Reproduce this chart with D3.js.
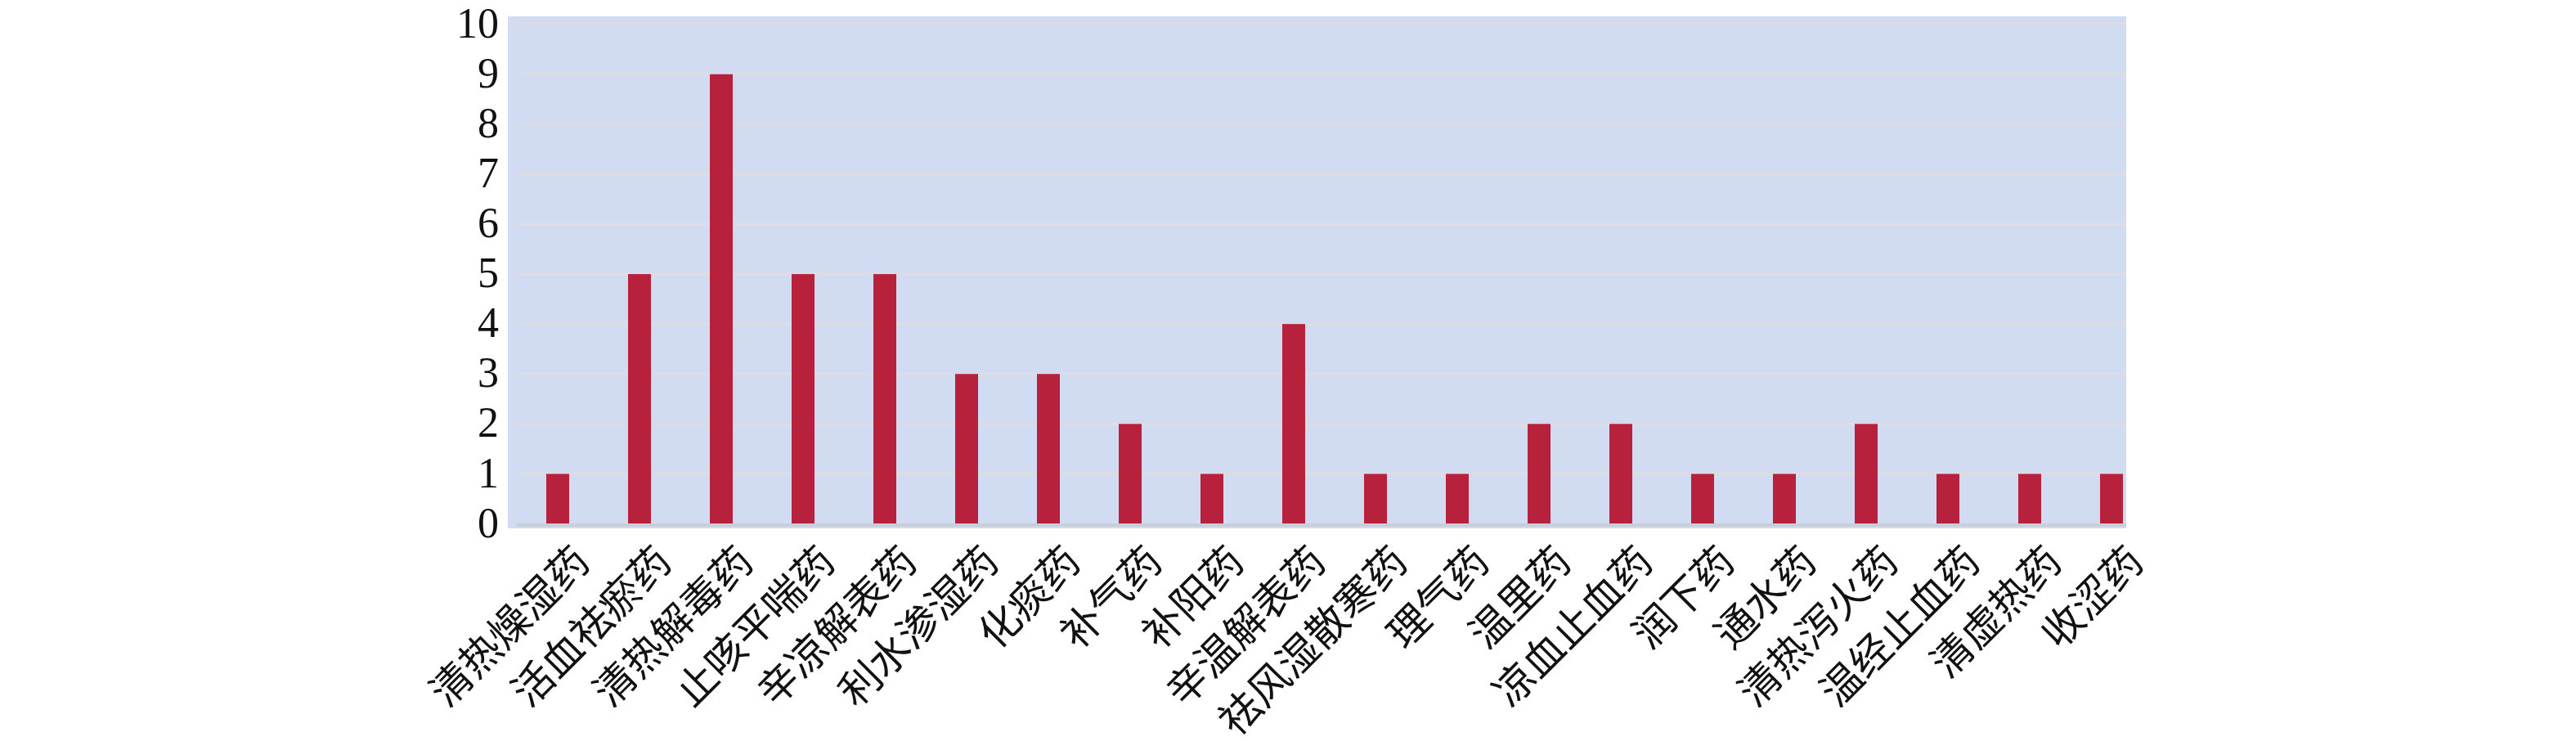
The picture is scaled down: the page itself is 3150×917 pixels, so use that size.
<!DOCTYPE html>
<html><head><meta charset="utf-8">
<script src="https://cdn.jsdelivr.net/npm/d3@7"></script>
<style>body{margin:0;background:#fff;}svg{display:block;}</style>
</head><body>
<script>
const categories = ["清热燥湿药","活血祛瘀药","清热解毒药","止咳平喘药","辛凉解表药","利水渗湿药","化痰药","补气药","补阳药","辛温解表药","祛风湿散寒药","理气药","温里药","凉血止血药","润下药","通水药","清热泻火药","温经止血药","清虚热药","收涩药"];
const values = [1,5,9,5,5,3,3,2,1,4,1,1,2,2,1,1,2,1,1,1];
const yTicks = [0,1,2,3,4,5,6,7,8,9,10];

const W = 3150, H = 917;
const svg = d3.select("body").append("svg").attr("width", W).attr("height", H);

const x = d3.scaleBand().domain(categories).range([632, 2632]).paddingInner(0.72).paddingOuter(0.36);
const y = d3.scaleLinear().domain([0, 10]).range([640.5, 29.7]);

// background
svg.append("rect").attr("x", 621).attr("y", 20).attr("width", 2600 - 621).attr("height", 646 - 20).attr("fill", "#d1dbf1");

// gridlines
svg.append("g").selectAll("line").data(yTicks.filter(d => d > 0)).join("line")
  .attr("x1", 632).attr("x2", 2600)
  .attr("y1", d => y(d)).attr("y2", d => y(d))
  .attr("stroke", "#dcdce2").attr("stroke-width", 3.5);

// bars
svg.append("g").selectAll("rect").data(values).join("rect")
  .attr("x", (d, i) => x(categories[i]))
  .attr("width", x.bandwidth())
  .attr("y", d => y(d))
  .attr("height", d => y(0) - y(d))
  .attr("fill", "#b8213b");

// baseline
svg.append("line").attr("x1", 632).attr("x2", 2600).attr("y1", y(0) + 1.5).attr("y2", y(0) + 1.5)
  .attr("stroke", "#c9ced9").attr("stroke-width", 4);

// y axis
const yAxis = d3.axisLeft(y).tickValues(yTicks).tickSize(0).tickPadding(0).tickFormat(d3.format("d"));
const gy = svg.append("g").attr("transform", "translate(610,0)").call(yAxis);
gy.select(".domain").remove();
gy.selectAll("text").attr("font-family", "'Liberation Serif','Times New Roman',serif")
  .attr("font-size", 52).attr("fill", "#111").attr("dy", "0.3em");

// x labels
svg.append("g").selectAll("text").data(categories).join("text")
  .attr("transform", d => `translate(${x(d) + x.bandwidth() / 2 + 42},${690}) rotate(-45)`)
  .attr("text-anchor", "end")
  .attr("font-family", "'Noto Sans CJK SC',sans-serif")
  .attr("font-size", 50)
  .attr("fill", "#111")
  .text(d => d);
</script>
</body></html>
